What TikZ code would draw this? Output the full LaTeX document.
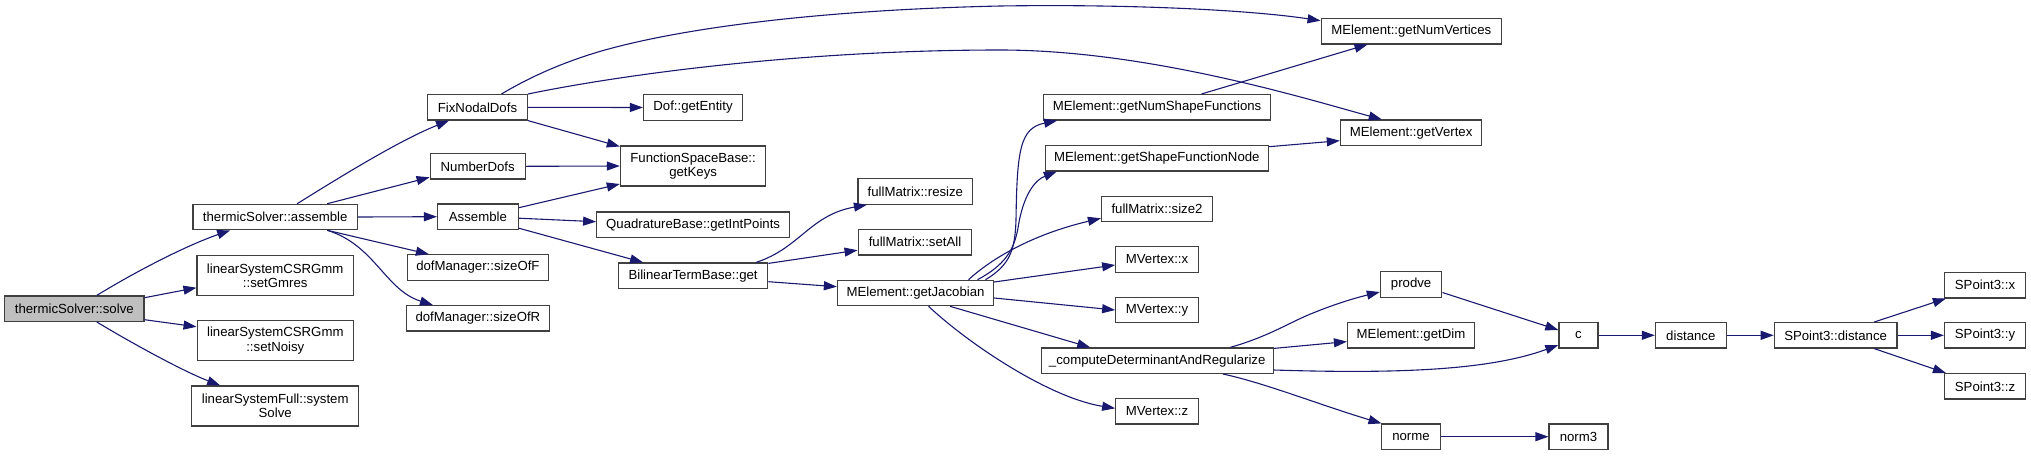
\documentclass[tikz,border=0pt]{standalone}
\usepackage{fontspec}
\setmainfont{Liberation Sans}
\usetikzlibrary{arrows.meta}
\definecolor{edgeblue}{HTML}{191970}
\definecolor{boxline}{HTML}{404040}
\definecolor{rootfill}{HTML}{BFBFBF}
\tikzset{
  box/.style={draw=boxline, line width=1.2pt, fill=white, rectangle, inner sep=0pt,
    minimum height=25.4pt, align=center, font=\fontsize{13.2}{14.5}\selectfont, text=black},
  tallbox/.style={box, minimum height=40pt},
  rootbox/.style={box, fill=rootfill},
  edge/.style={draw=edgeblue, line width=1.1pt, -{Triangle[length=13pt,width=9pt]}}
}
\begin{document}
\begin{tikzpicture}[x=1pt,y=-1pt]
\useasboundingbox (0,0) rectangle (2031,456);
% rank 0
\node[rootbox, minimum width=139.3pt] (solve) at (74.3,308.7) {thermicSolver::solve};
% rank 1
\node[box, minimum width=164.3pt] (assemble) at (275.2,217) {thermicSolver::assemble};
\node[tallbox, minimum width=156.3pt] (setGmres) at (275.2,275.7) {linearSystemCSRGmm\\::setGmres};
\node[tallbox, minimum width=156.3pt] (setNoisy) at (275.3,340.8) {linearSystemCSRGmm\\::setNoisy};
\node[tallbox, minimum width=167pt] (systemSolve) at (275.2,406) {linearSystemFull::system\\Solve};
% rank 2
\node[box, minimum width=99.8pt] (fixnodal) at (477.5,107.3) {FixNodalDofs};
\node[box, minimum width=95pt] (numberdofs) at (477.7,166.3) {NumberDofs};
\node[box, minimum width=80.7pt] (assemblefn) at (477.9,216.7) {Assemble};
\node[box, minimum width=141.2pt] (sizeOfF) at (477.9,267.5) {dofManager::sizeOfF};
\node[box, minimum width=142.7pt] (sizeOfR) at (477.9,318.3) {dofManager::sizeOfR};
% rank 3
\node[box, minimum width=99pt] (getEntity) at (693,107.5) {Dof::getEntity};
\node[tallbox, minimum width=145.4pt] (getKeys) at (693.1,166) {FunctionSpaceBase::\\getKeys};
\node[box, minimum width=192.8pt] (getIntPoints) at (693.1,224.7) {QuadratureBase::getIntPoints};
\node[box, minimum width=149.2pt] (bilinear) at (693.1,275.7) {BilinearTermBase::get};
% rank 4
\node[box, minimum width=114.8pt] (resize) at (915.4,191.5) {fullMatrix::resize};
\node[box, minimum width=113.7pt] (setAll) at (915,242.2) {fullMatrix::setAll};
\node[box, minimum width=156.1pt] (jacobian) at (915.5,293) {MElement::getJacobian};
% rank 5
\node[box, minimum width=227pt] (numShape) at (1157.1,107.3) {MElement::getNumShapeFunctions};
\node[box, minimum width=222.8pt] (shapeNode) at (1156.8,158.2) {MElement::getShapeFunctionNode};
\node[box, minimum width=111pt] (size2) at (1157,208.8) {fullMatrix::size2};
\node[box, minimum width=82.5pt] (mvx) at (1157,259.5) {MVertex::x};
\node[box, minimum width=82.5pt] (mvy) at (1157,310) {MVertex::y};
\node[box, minimum width=232pt] (compute) at (1157.2,360.7) {\_computeDeterminantAndRegularize};
\node[box, minimum width=82.5pt] (mvz) at (1157,411.3) {MVertex::z};
% rank 6
\node[box, minimum width=180.3pt] (numVertices) at (1411.3,31.2) {MElement::getNumVertices};
\node[box, minimum width=141.4pt] (getVertex) at (1411.1,132.7) {MElement::getVertex};
\node[box, minimum width=61.4pt] (prodve) at (1411.1,284.5) {prodve};
\node[box, minimum width=127pt] (getDim) at (1411,335.3) {MElement::getDim};
\node[box, minimum width=59.3pt] (norme) at (1411,436.7) {norme};
% rank 7
\node[box, minimum width=39pt] (cfn) at (1578.4,335.3) {c};
\node[box, minimum width=58.9pt] (norm3) at (1578.5,436.7) {norm3};
% rank 8
\node[box, minimum width=70.8pt] (distance) at (1690.8,335.3) {distance};
% rank 9
\node[box, minimum width=122.6pt] (spdistance) at (1835.6,335.3) {SPoint3::distance};
% rank 10
\node[box, minimum width=81pt] (spx) at (1985,285.2) {SPoint3::x};
\node[box, minimum width=81pt] (spy) at (1985,335.3) {SPoint3::y};
\node[box, minimum width=81pt] (spz) at (1985,386.3) {SPoint3::z};

% edges from solve
\draw[edge] ([xshift=22.5pt]solve.north) .. controls (135,272) and (185,246) .. ([xshift=-45pt]assemble.south);
\draw[edge] ([yshift=11pt]solve.east) -- ([yshift=-12pt]setGmres.west);
\draw[edge] ([yshift=-11pt]solve.east) -- ([yshift=14pt]setNoisy.west);
\draw[edge] ([xshift=22.5pt]solve.south) .. controls (135,345) and (185,372) .. ([xshift=-55pt]systemSolve.north);
% edges from assemble
\draw[edge] ([xshift=22pt]assemble.north) .. controls (340,177) and (400,140) .. ([xshift=-28.5pt]fixnodal.south);
\draw[edge] ([xshift=52pt]assemble.north) -- ([yshift=-11pt]numberdofs.west);
\draw[edge] (assemble.east) -- (assemblefn.west);
\draw[edge] ([xshift=52pt]assemble.south) -- ([xshift=-49pt]sizeOfF.north);
\draw[edge] ([xshift=52pt]assemble.south) .. controls (375,245) and (385,290) .. ([xshift=-45pt]sizeOfR.north);
% rank 2 edges
\draw[edge] (fixnodal.east) -- (getEntity.west);
\draw[edge] (fixnodal.south east) -- ([yshift=19.5pt]getKeys.west);
\draw[edge] (numberdofs.east) -- (getKeys.west);
\draw[edge] ([yshift=9pt]assemblefn.east) -- ([yshift=-18pt]getKeys.west);
\draw[edge] ([yshift=-1.5pt]assemblefn.east) -- ([yshift=3pt]getIntPoints.west);
\draw[edge] ([yshift=-11.5pt]assemblefn.east) -- ([xshift=-50pt]bilinear.north);
\draw[edge] ([xshift=24pt]fixnodal.north) .. controls (535,74) and (568,61) .. (599,51.7)
  .. controls (680,28) and (820,10) .. (1000,6)
  .. controls (1130,4) and (1250,10) .. ([yshift=10.5pt]numVertices.west);
\draw[edge] (fixnodal.north east) .. controls (620,75) and (800,50) .. (1000,50)
  .. controls (1150,50) and (1310,100) .. ([xshift=-29.3pt]getVertex.north);
% bilinear edges
\draw[edge] ([xshift=63pt]bilinear.north) .. controls (800,248) and (810,215) .. ([xshift=-48.5pt]resize.south);
\draw[edge] ([yshift=-1pt]bilinear.north east) -- ([yshift=-8pt]setAll.west);
\draw[edge] ([yshift=-6pt]bilinear.east) -- ([yshift=6.3pt]jacobian.west);
% jacobian edges
\draw[edge] ([xshift=70pt]jacobian.north) .. controls (1010,265) and (1015,250) .. (1016,220)
  .. controls (1017,150) and (1020,128) .. ([xshift=-100pt]numShape.south);
\draw[edge] ([xshift=62pt]jacobian.north) .. controls (1005,265) and (1014,250) .. (1018,228)
  .. controls (1023,195) and (1035,180) .. ([xshift=-100pt]shapeNode.south);
\draw[edge] ([xshift=53pt]jacobian.north) .. controls (990,260) and (1030,235) .. ([yshift=-9.5pt]size2.west);
\draw[edge] ([yshift=11pt]jacobian.east) -- ([yshift=-5.5pt]mvx.west);
\draw[edge] ([yshift=-5pt]jacobian.east) -- (mvy.west);
\draw[edge] ([xshift=34.5pt]jacobian.south) -- ([xshift=-67pt]compute.north);
\draw[edge] ([xshift=13pt]jacobian.south) .. controls (970,345) and (1050,398) .. ([yshift=3pt]mvz.west);
% rank 5 edges
\draw[edge] ([xshift=44.3pt]numShape.north) -- ([xshift=-43.8pt]numVertices.south);
\draw[edge] ([yshift=11.5pt]shapeNode.east) -- ([yshift=-8pt]getVertex.west);
\draw[edge] ([xshift=73pt]compute.north) .. controls (1270,336) and (1290,322) .. (1313,313)
  .. controls (1335,304) and (1355,298) .. ([yshift=-7.5pt]prodve.west);
\draw[edge] ([yshift=-1pt]compute.north east) -- ([yshift=-6.3pt]getDim.west);
\draw[edge] ([yshift=-9.3pt]compute.east) .. controls (1400,374) and (1490,370) .. ([yshift=-9.7pt]cfn.west);
\draw[edge] ([xshift=65.7pt]compute.south) .. controls (1265,383) and (1320,405) .. ([xshift=-29.5pt]norme.north);
% rank 6+ edges
\draw[edge] ([yshift=-8pt]prodve.east) -- ([yshift=5.3pt]cfn.west);
\draw[edge] (norme.east) -- (norm3.west);
\draw[edge] (cfn.east) -- (distance.west);
\draw[edge] (distance.east) -- (spdistance.west);
\draw[edge] (spdistance.east) -- (spy.west);
\draw[edge] ([xshift=38.6pt]spdistance.north) -- ([xshift=2pt]spx.south west);
\draw[edge] ([xshift=38.6pt]spdistance.south) -- ([xshift=2pt]spz.north west);
\end{tikzpicture}
\end{document}
